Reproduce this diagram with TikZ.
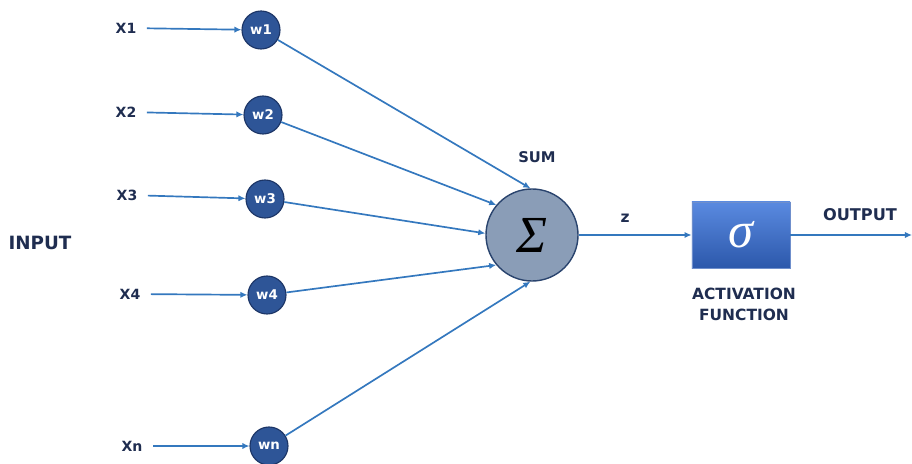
\documentclass[tikz,border=0pt]{standalone}
\usepackage{fontspec}
\setmainfont{DejaVu Sans}
\newfontfamily\greekfont{Liberation Serif}
\usetikzlibrary{positioning,arrows.meta}

\definecolor{navy}{HTML}{1F2D50}
\definecolor{linkblue}{HTML}{3478BE}
\definecolor{wfill}{HTML}{2E5597}
\definecolor{wedge}{HTML}{1C3566}
\definecolor{sumfill}{HTML}{8A9DB7}
\definecolor{sumedge}{HTML}{2A446E}
\definecolor{acttop}{HTML}{5A8AE0}
\definecolor{actbot}{HTML}{2C58AB}
\definecolor{actedge}{HTML}{6F8FCC}

\begin{document}
\begin{tikzpicture}[x=0.025cm, y=-0.025cm, >={Latex[length=5pt,width=4.5pt]},
  every node/.style={font=\bfseries, text=navy},
  lbl/.style={font=\bfseries\fontsize{10}{12}\selectfont},
  weight/.style={circle, draw=wedge, line width=0.8pt, fill=wfill, minimum size=0.95cm,
    inner sep=0pt, text=white, font=\bfseries\fontsize{9.5}{11}\selectfont},
  link/.style={->, draw=linkblue, line width=1.2pt}]
  \useasboundingbox (0,0) rectangle (912,464);

  % inputs and weights
  \node[lbl] (x1) at (126,28) {X1};
  \node[lbl] (x2) at (126,112) {X2};
  \node[lbl] (x3) at (127,195) {X3};
  \node[lbl] (x4) at (130,294) {X4};
  \node[lbl] (xn) at (132,446) {Xn};
  \node[weight] (w1) at (261,30) {w1};
  \node[weight] (w2) at (263,115) {w2};
  \node[weight] (w3) at (265,199) {w3};
  \node[weight] (w4) at (267,295) {w4};
  \node[weight] (wn) at (269,446) {wn};
  \draw[link, shorten <=4pt] (x1) -- (w1);
  \draw[link, shorten <=4pt] (x2) -- (w2);
  \draw[link, shorten <=4pt] (x3) -- (w3);
  \draw[link, shorten <=4pt] (x4) -- (w4);
  \draw[link, shorten <=4pt] (xn) -- (wn);
  \node[font=\bfseries\fontsize{13}{15}\selectfont] (inp) at (40,243) {INPUT};

  % summation
  \node[circle, draw=sumedge, line width=1pt, fill=sumfill, minimum size=2.3cm, inner sep=0pt]
    (sum) at (532,235) {\greekfont\mdseries\itshape\fontsize{37}{37}\selectfont\color{black}Σ};
  \node[font=\bfseries\fontsize{10.5}{12}\selectfont] (sumlbl) at (537,157) {SUM};
  \draw[link] (w1) -- (sum.92);
  \draw[link] (w2) -- (sum.140);
  \draw[link] (w3) -- (sum.178);
  \draw[link] (w4) -- (sum.220);
  \draw[link] (wn) -- (sum.268);

  % activation
  \node[draw=actedge, line width=0.6pt, top color=acttop, bottom color=actbot, minimum width=2.45cm,
    minimum height=1.65cm, inner sep=0pt] (act) at (741,235)
    {\greekfont\mdseries\itshape\fontsize{36}{36}\selectfont\color{white}σ};
  \node[font=\bfseries\fontsize{11}{15}\selectfont, align=center] (actlbl) at (744,304) {ACTIVATION\\FUNCTION};
  \node[font=\bfseries\fontsize{11}{12}\selectfont] (zlbl) at (625,218) {z};
  \node[font=\bfseries\fontsize{11.5}{12}\selectfont] (outlbl) at (860,215) {OUTPUT};
  \coordinate (out) at (912,235);
  \draw[link] (sum) -- (act);
  \draw[link] (act) -- (out);
\end{tikzpicture}
\end{document}
